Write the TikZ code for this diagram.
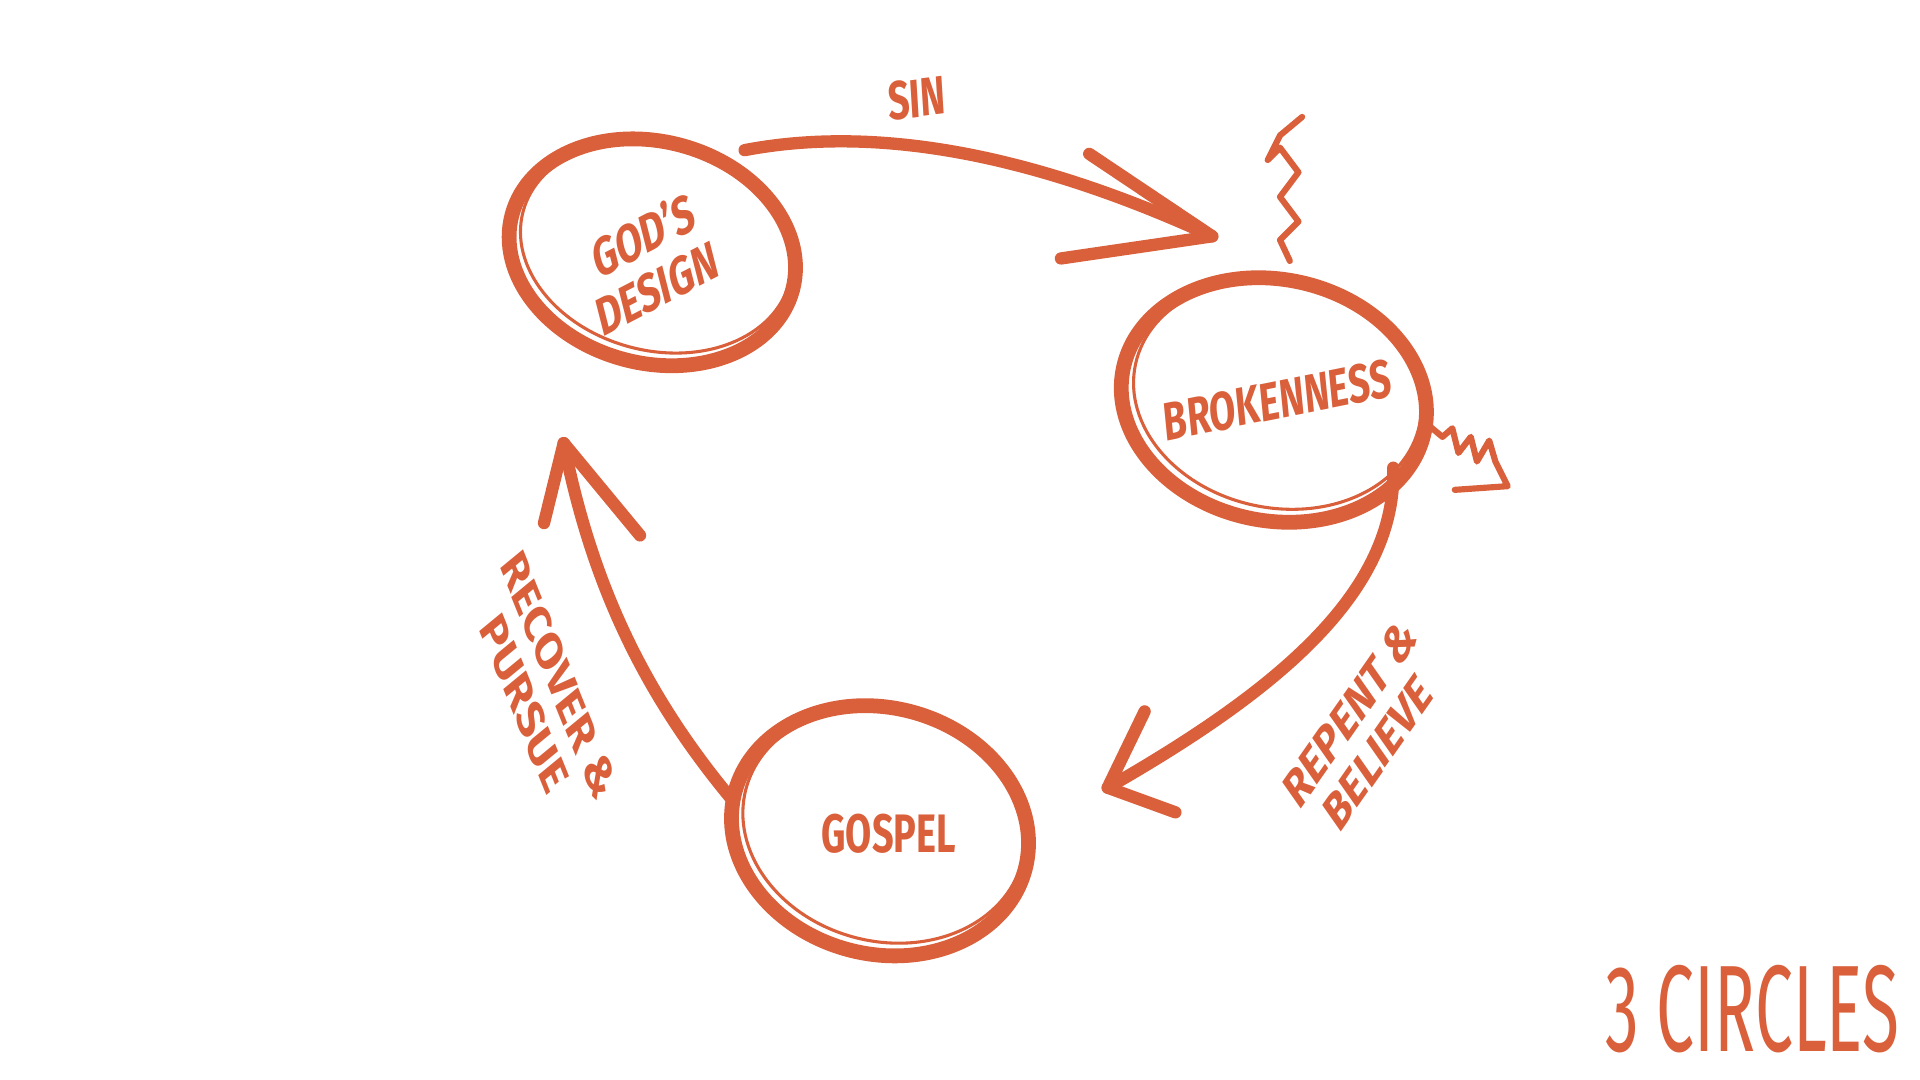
\documentclass[tikz,border=0pt]{standalone}
\usepackage{fontspec}
\setmainfont{Fira Sans}
\definecolor{org}{HTML}{D9603B}
\begin{document}
\begin{tikzpicture}[x=1pt,y=-1pt,
  ring/.style={draw=org,line width=12pt},
  thinring/.style={draw=org,line width=2.5pt},
  arr/.style={draw=org,line width=10pt,line cap=round,line join=round},
  lbl/.style={text=org,font=\bfseries\fontsize{44}{46}\selectfont,xscale=0.7,align=center},
  big/.style={text=org,font=\fontsize{100}{110}\selectfont,xscale=0.55}]
\useasboundingbox[fill=white] (0,0) rectangle (1560,877.5);
% circles
\draw[ring,rotate around={-15:(530,205)}] (530,205) ellipse [x radius=118,y radius=90];
\draw[thinring,rotate around={-15:(530,205)}] (532,200) ellipse [x radius=112,y radius=84];
\draw[ring,rotate around={-12:(1035,325)}] (1035,325) ellipse [x radius=125,y radius=98];
\draw[thinring,rotate around={-12:(1035,325)}] (1037,320) ellipse [x radius=118,y radius=92];
\draw[ring,rotate around={-15:(715,675)}] (715,675) ellipse [x radius=122,y radius=100];
\draw[thinring,rotate around={-15:(715,675)}] (717,670) ellipse [x radius=116,y radius=94];
\node[lbl,rotate=20] (t1) at (528,212) {GOD’S\\DESIGN};
\node[lbl,rotate=8] (t2) at (1038,325) {BROKENNESS};
\node[lbl] (t3) at (722,677) {GOSPEL};
% SIN arrow
\coordinate (s0) at (605,122);
\coordinate (s1) at (985,192);
\coordinate (sa) at (885,125);
\coordinate (sb) at (862,210);
\draw[arr] (s0) .. controls (720,100) and (850,130) .. (s1);
\draw[arr] (sa) -- (s1) -- (sb);
\node[lbl,rotate=5] (sin) at (745,80) {SIN};
% Repent arrow
\coordinate (r0) at (1132,380);
\coordinate (r1) at (900,640);
\coordinate (ra) at (930,578);
\coordinate (rb) at (955,660);
\draw[arr] (r0) .. controls (1135,480) and (1040,560) .. (r1);
\draw[arr] (ra) -- (r1) -- (rb);
\node[lbl,rotate=45] (rep) at (1108,595) {REPENT \&\\BELIEVE};
% Recover arrow
\coordinate (c0) at (595,650);
\coordinate (c1) at (458,360);
\coordinate (ca) at (442,425);
\coordinate (cb) at (520,435);
\draw[arr] (c0) .. controls (520,560) and (480,470) .. (c1);
\draw[arr] (ca) -- (c1) -- (cb);
\node[lbl,rotate=-60] (rec) at (440,560) {RECOVER \&\\PURSUE};
% zigzags
\coordinate (z0) at (1048,212);
\coordinate (z1) at (1058,95);
\draw[arr,line width=5pt] (z0) -- (1040,195) -- (1055,180) -- (1040,160) -- (1055,140) -- (1040,120) -- (1030,130) -- (1040,110) -- (z1);
\coordinate (w0) at (1160,345);
\coordinate (w1) at (1225,395);
\draw[arr,line width=5pt] (w0) -- (1172,355) -- (1180,348) -- (1185,368) -- (1195,355) -- (1200,375) -- (1210,358) -- (1215,375) -- (w1) -- (1182,398);
\node[big,anchor=east] (title) at (1545,820) {3 CIRCLES};
\end{tikzpicture}
\end{document}
